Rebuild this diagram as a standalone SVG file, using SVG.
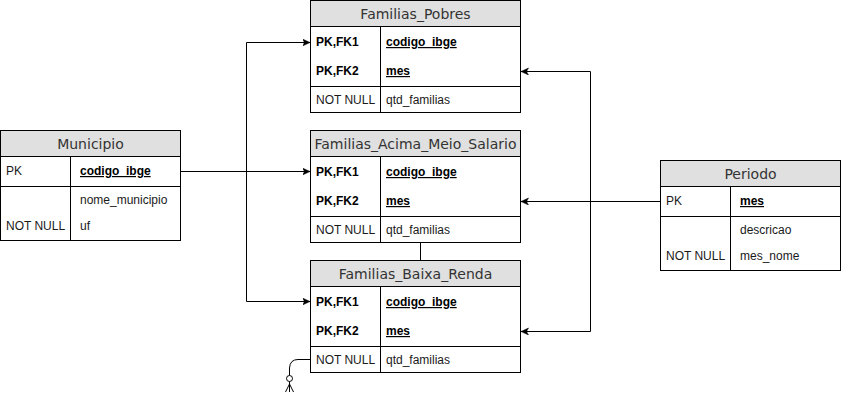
<svg xmlns="http://www.w3.org/2000/svg" width="841" height="400" viewBox="0 0 841 400">
<defs>
<style>
.box{fill:#ffffff;stroke:#000000;stroke-width:1}
.hdr{fill:#e0e0e0;stroke:#000000;stroke-width:1}
.ln{stroke:#000000;stroke-width:1;fill:none}
.title{font-family:"DejaVu Sans",sans-serif;font-size:14px;fill:#333333;text-anchor:middle}
.t{font-family:"Liberation Sans",Arial,sans-serif;font-size:12px;fill:#1a1a1a}
.k{font-family:"Liberation Sans",Arial,sans-serif;font-size:12px;font-weight:bold;fill:#000000}
.u{text-decoration:underline}
.edge{stroke:#000000;stroke-width:1;fill:none}
</style>
<marker id="arr" markerUnits="userSpaceOnUse" markerWidth="8" markerHeight="8" refX="7.5" refY="3.5" orient="auto">
<path d="M0,0 L7.5,3.5 L0,7 L2,3.5 Z" fill="#000000" stroke="#000000" stroke-width="0.5"/>
</marker>
</defs>

<g id="connectors">
<path class="edge" d="M180.5,171.5 H310" marker-end="url(#arr)"/>
<path class="edge" d="M246.5,171.5 V42.5 H310" marker-end="url(#arr)"/>
<path class="edge" d="M246.5,171.5 V301.5 H310" marker-end="url(#arr)"/>
<path class="edge" d="M660.5,201.5 H521" marker-end="url(#arr)"/>
<path class="edge" d="M590.5,201.5 V71.5 H521" marker-end="url(#arr)"/>
<path class="edge" d="M590.5,201.5 V331.5 H521" marker-end="url(#arr)"/>
<path class="edge" d="M420.5,242.5 V260.5"/>
<path class="edge" d="M310.5,359.5 H298 Q290,359.5 289.5,368 V375.5"/>
<circle cx="289.5" cy="378.5" r="3" fill="#ffffff" stroke="#000000" stroke-width="1"/>
<path class="edge" d="M289.5,381.5 V392 M289.5,384 L285.5,392 M289.5,384 L293.5,392"/>
</g>

<g id="familias_pobres">
<rect class="box" x="310.5" y="0.5" width="210" height="112"/>
<rect class="hdr" x="310.5" y="0.5" width="210" height="26"/>
<text class="title" x="415.5" y="18.5">Familias_Pobres</text>
<path class="ln" d="M380.5,26.5 V112.5 M310.5,86.5 H520.5"/>
<text class="k" x="316" y="46">PK,FK1</text>
<text class="k u" x="386" y="46">codigo_ibge</text>
<text class="k" x="316" y="75">PK,FK2</text>
<text class="k u" x="386" y="75">mes</text>
<text class="t" x="316" y="104">NOT NULL</text>
<text class="t" x="386" y="104">qtd_familias</text>
</g>

<g id="familias_acima_meio_salario">
<rect class="box" x="310.5" y="130.5" width="210" height="112"/>
<rect class="hdr" x="310.5" y="130.5" width="210" height="26"/>
<text class="title" x="415.5" y="148.5">Familias_Acima_Meio_Salario</text>
<path class="ln" d="M380.5,156.5 V242.5 M310.5,216.5 H520.5"/>
<text class="k" x="316" y="176">PK,FK1</text>
<text class="k u" x="386" y="176">codigo_ibge</text>
<text class="k" x="316" y="205">PK,FK2</text>
<text class="k u" x="386" y="205">mes</text>
<text class="t" x="316" y="234">NOT NULL</text>
<text class="t" x="386" y="234">qtd_familias</text>
</g>

<g id="familias_baixa_renda">
<rect class="box" x="310.5" y="260.5" width="210" height="112"/>
<rect class="hdr" x="310.5" y="260.5" width="210" height="26"/>
<text class="title" x="415.5" y="278.5">Familias_Baixa_Renda</text>
<path class="ln" d="M380.5,286.5 V372.5 M310.5,346.5 H520.5"/>
<text class="k" x="316" y="306">PK,FK1</text>
<text class="k u" x="386" y="306">codigo_ibge</text>
<text class="k" x="316" y="335">PK,FK2</text>
<text class="k u" x="386" y="335">mes</text>
<text class="t" x="316" y="364">NOT NULL</text>
<text class="t" x="386" y="364">qtd_familias</text>
</g>

<g id="municipio">
<rect class="box" x="0.5" y="130.5" width="180" height="110"/>
<rect class="hdr" x="0.5" y="130.5" width="180" height="26"/>
<text class="title" x="90.5" y="148.5">Municipio</text>
<path class="ln" d="M70.5,156.5 V240.5 M0.5,186.5 H180.5"/>
<text class="t" x="6" y="175">PK</text>
<text class="k u" x="80" y="175">codigo_ibge</text>
<text class="t" x="80" y="204">nome_municipio</text>
<text class="t" x="6" y="230">NOT NULL</text>
<text class="t" x="80" y="230">uf</text>
</g>

<g id="periodo">
<rect class="box" x="660.5" y="160.5" width="180" height="110"/>
<rect class="hdr" x="660.5" y="160.5" width="180" height="26"/>
<text class="title" x="750.5" y="178.5">Periodo</text>
<path class="ln" d="M730.5,186.5 V270.5 M660.5,216.5 H840.5"/>
<text class="t" x="666" y="205">PK</text>
<text class="k u" x="740" y="205">mes</text>
<text class="t" x="740" y="234">descricao</text>
<text class="t" x="666" y="260">NOT NULL</text>
<text class="t" x="740" y="260">mes_nome</text>
</g>
</svg>
